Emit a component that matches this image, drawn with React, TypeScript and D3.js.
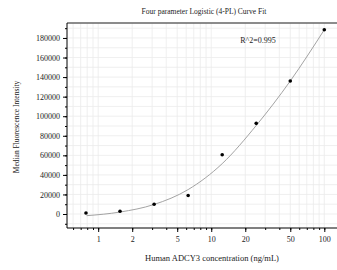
import React, { useEffect, useRef } from "react";
import * as d3 from "d3";

// Measured standards (ng/mL vs MFI)
const concentrations = [0.78, 1.56, 3.125, 6.25, 12.5, 25, 50, 100];
const mfiValues = [1000, 2800, 10000, 19000, 60600, 92700, 136000, 188400];

// Fitted 4-PL curve
const fitConc = [0.79, 1.56, 3.11, 6.25, 12.5, 25, 50, 100];
const fitMfi = [-1700, 2000, 9700, 25000, 51500, 90500, 136000, 188400];

const xTickLabels = [1, 2, 5, 10, 20, 50, 100];
const yTickLabels = [0, 20000, 40000, 60000, 80000, 100000, 120000, 140000, 160000, 180000];

const title = "Four parameter Logistic (4-PL) Curve Fit";
const xTitle = "Human ADCY3 concentration (ng/mL)";
const yTitle = "Median Fluorescence Intensity";
const rSquared = "R^2=0.995";

const App: React.FC = () => {
  const svgRef = useRef<SVGSVGElement>(null);
  const width = 337;
  const height = 270;

  useEffect(() => {
    if (!svgRef.current) return;
    const svg = d3.select(svgRef.current);
    svg.selectAll("*").remove();

    const left = 67;
    const right = 337;
    const top = 23;
    const bottom = 228;
    const font = "'Liberation Serif', 'Times New Roman', serif";

    const x = d3.scaleLog().domain([0.53, 129.5]).range([left, right]);
    const y = d3.scaleLinear().domain([-14300, 195300]).range([bottom, top]);

    // minor positions
    const xMinor: number[] = [];
    [0.1, 1, 10, 100].forEach((dec) => {
      for (let k = 1; k <= 9; k++) {
        const v = dec * k;
        if (v >= 0.53 && v <= 129.5) xMinor.push(v);
      }
    });
    const yMinor = d3.range(-10000, 195000, 10000);

    // grid
    const grid = svg.append("g").attr("stroke", "#ebebeb").attr("stroke-width", 0.8);
    xMinor.forEach((v) => {
      grid.append("line")
        .attr("x1", x(v)).attr("x2", x(v))
        .attr("y1", top).attr("y2", bottom);
    });
    yMinor.forEach((v) => {
      grid.append("line")
        .attr("x1", left).attr("x2", right)
        .attr("y1", y(v)).attr("y2", y(v));
    });

    // top frame
    svg.append("line")
      .attr("x1", left).attr("x2", right)
      .attr("y1", top).attr("y2", top)
      .attr("stroke", "#666").attr("stroke-width", 1.6);

    // y axis
    const yAxisMinor = d3.axisLeft(y).tickValues(yMinor).tickSize(2).tickFormat(() => "");
    svg.append("g")
      .attr("transform", `translate(${left},0)`)
      .call(yAxisMinor)
      .call((g) => g.select(".domain").remove());
    const yAxis = d3.axisLeft(y).tickValues(yTickLabels).tickSize(4).tickPadding(3)
      .tickFormat((d) => `${d}`);
    svg.append("g")
      .attr("transform", `translate(${left},0)`)
      .call(yAxis)
      .call((g) => g.select(".domain").remove())
      .call((g) => g.selectAll("text").attr("font-family", font).attr("font-size", 8).attr("fill", "#222"));
    svg.append("line")
      .attr("x1", left).attr("x2", left)
      .attr("y1", top).attr("y2", bottom)
      .attr("stroke", "#000").attr("stroke-width", 1);

    // x axis
    const xAxisMinor = d3.axisBottom(x).tickValues(xMinor).tickSize(2).tickFormat(() => "");
    svg.append("g")
      .attr("transform", `translate(0,${bottom})`)
      .call(xAxisMinor)
      .call((g) => g.select(".domain").remove());
    const xAxis = d3.axisBottom(x).tickValues(xTickLabels).tickSize(4).tickPadding(4)
      .tickFormat((d) => `${d}`);
    svg.append("g")
      .attr("transform", `translate(0,${bottom})`)
      .call(xAxis)
      .call((g) => g.select(".domain").remove())
      .call((g) => g.selectAll("text").attr("font-family", font).attr("font-size", 8).attr("fill", "#222"));
    svg.append("line")
      .attr("x1", left).attr("x2", right)
      .attr("y1", bottom).attr("y2", bottom)
      .attr("stroke", "#000").attr("stroke-width", 1);

    // fitted curve
    const line = d3.line<number>()
      .x((_, i) => x(fitConc[i]))
      .y((d) => y(d))
      .curve(d3.curveMonotoneX);
    svg.append("path")
      .attr("d", line(fitMfi))
      .attr("fill", "none")
      .attr("stroke", "#999")
      .attr("stroke-width", 0.9);

    // points
    svg.append("g")
      .selectAll("circle")
      .data(mfiValues)
      .join("circle")
      .attr("cx", (_, i) => x(concentrations[i]))
      .attr("cy", (d) => y(d))
      .attr("r", 1.8)
      .attr("fill", "#000");

    // texts
    svg.append("text")
      .attr("x", 204).attr("y", 14)
      .attr("text-anchor", "middle")
      .attr("font-family", font).attr("font-size", 7.5)
      .attr("fill", "#222")
      .text(title);
    svg.append("text")
      .attr("x", 258).attr("y", 43)
      .attr("text-anchor", "middle")
      .attr("font-family", font).attr("font-size", 8)
      .attr("fill", "#222")
      .text(rSquared);
    svg.append("text")
      .attr("x", 212).attr("y", 261)
      .attr("text-anchor", "middle")
      .attr("font-family", font).attr("font-size", 8.5)
      .attr("fill", "#222")
      .text(xTitle);
    svg.append("text")
      .attr("transform", `translate(19,127) rotate(-90)`)
      .attr("text-anchor", "middle")
      .attr("font-family", font).attr("font-size", 7.5)
      .attr("fill", "#222")
      .text(yTitle);
  }, []);

  return (
    <svg
      ref={svgRef}
      width={width}
      height={height}
      style={{ position: "absolute", left: 0, top: 0, background: "#fff" }}
    />
  );
};

export default App;
